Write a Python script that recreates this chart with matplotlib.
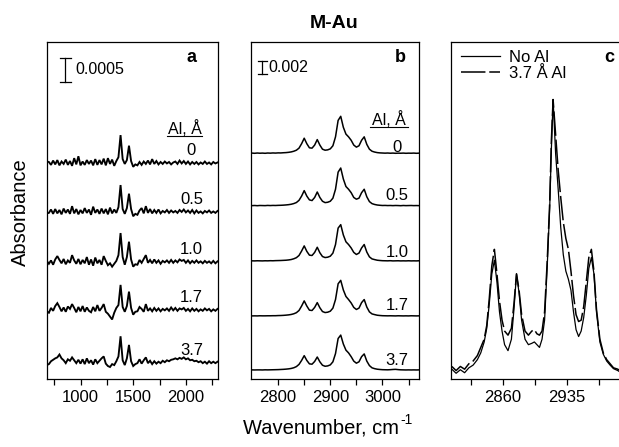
import numpy as np
import matplotlib
matplotlib.use("Agg")
import matplotlib.pyplot as plt
from matplotlib.transforms import blended_transform_factory

plt.rcParams['font.family'] = ['Liberation Sans', 'DejaVu Sans']

# ---------------- data ----------------
# Panel a: low-frequency region, absorbance in units of 1e-5, sampled every 20 cm-1
a_wavenumber = np.arange(680, 2301, 20)
a_labels = ['0', '0.5', '1.0', '1.7', '3.7']
a_al00 = [3, 2, -4, 5, -3, 6, -5, 3, -2, 7, -4,
          4, -6, 10, -3, 14, -5, 3, -4, 6, -2,
          5, -5, 8, -4, 6, -3, 9, -5, 10, -2,
          7, -6, 4, 12, 58, 8, -2, 6, 36, 4,
          -8, -3, -5, 2, -4, 3, -2, 5, -3, 8,
          -2, 4, -3, 2, -2, 3, -1, 2, -3, 1,
          3, -2, 5, -1, 4, -2, 3, -3, 2, -2,
          2, -3, 1, -2, 3, -2, 1, -3, 2, -1, 1]
a_al05 = [-3, -2, 5, -4, 6, -3, 4, -5, 7, -2, 5,
          -4, 12, -3, 6, -5, 4, -3, 8, -2, 5,
          -6, 11, -2, 5, -4, 7, -3, 6, -5, 9,
          -3, 5, -2, 10, 56, 6, -4, 8, 38, 6,
          -9, -4, -6, 3, 8, -3, 12, -2, 6, -3,
          4, -2, 5, -3, 2, -1, 4, -2, 3, -1,
          2, -2, 4, 0, 5, -1, 3, -2, 4, -3,
          3, -2, 1, -3, 2, -1, 3, -2, 1, -2, 2]
a_al10 = [2, -4, 3, -6, 5, 12, 4, -3, 6, -5, 3,
          -2, 14, 3, -4, 6, -5, 4, -3, 10, -6,
          5, -8, 9, -3, 4, -6, 12, 2, -7, -3,
          -10, -4, 2, 14, 60, 10, -6, 10, 42, 5,
          -10, -5, -6, 4, -2, 6, 14, -2, 4, -3,
          5, -2, 3, -4, 2, -1, 3, -2, 4, -2,
          3, -1, 5, 2, 4, -2, 3, -3, 2, -2,
          3, -2, 1, -3, 2, -2, 1, -3, 2, -3, 1]
a_al17 = [-3, -6, 4, -2, 8, 14, 6, -3, 5, -4, 7,
          2, 12, 4, -5, 6, -3, 8, -4, 5, -2,
          -5, 6, -3, 10, -2, 4, 12, -4, -8, -14,
          -20, -6, 4, 10, 52, 6, -4, 8, 38, 4,
          -10, -4, -3, 6, 2, -4, 12, -2, 3, -3,
          4, -2, 3, -3, 2, -1, 3, -2, 5, -1,
          4, -2, 3, 1, 4, -2, 2, -3, 3, -2,
          2, -3, 1, -2, 3, -1, 2, -3, 1, -2, 2]
a_al37 = [-6, -4, 2, 5, 8, 10, 16, 8, 4, -2, 6,
          3, 10, 4, -2, 5, -3, 6, -4, 8, -2,
          4, -5, 6, -2, 3, 8, 12, -3, -8, -10,
          -4, -6, 2, 12, 54, 4, -6, 8, 36, 2,
          -8, -4, -2, 6, -3, 4, 10, -2, 3, -4,
          2, -3, 1, -2, 3, 0, 4, 2, 5, 6,
          8, 6, 9, 7, 10, 6, 8, 4, 5, 2,
          3, 0, 2, -2, 1, -3, 2, -2, 1, -2, 1]
a_series = [a_al00, a_al05, a_al10, a_al17, a_al37]

# Panel b: C-H stretching region, absorbance in units of 1e-4, every 5 cm-1
b_wavenumber = np.arange(2745, 3076, 5)
b_labels = ['0', '0.5', '1.0', '1.7', '3.7']
b_al00 = [0.1, 0.3, 0, 0.4, 0.1, 0.3, 0, 0.4, 0.2, 0.5, 0.3,
          0.6, 0.5, 0.8, 1.0, 1.4, 2.0, 3.0, 4.5, 7.5, 14,
          22, 14, 8, 7.5, 12, 20, 12, 6, 4.5, 5,
          6.5, 11, 24, 48, 54, 38, 28, 24, 19, 12,
          9, 11, 19, 24, 13, 6, 3, 1.8, 1.0, 0.6,
          0.4, 0.2, 0.4, 0.1, 0.3, 0, 0.2, 0.1, 0.3, 0,
          0.2, 0.1, 0.3, 0, 0.2, 0.1]
b_al05 = [0.2, 0.1, 0.3, 0, 0.3, 0.2, 0.1, 0.4, 0.2, 0.4, 0.3,
          0.5, 0.6, 0.8, 1.1, 1.5, 2.1, 3.1, 4.6, 7.8, 14,
          22, 14, 8.5, 7.5, 12, 20, 12, 6.5, 4.5, 5,
          6.5, 11, 24, 49, 55, 39, 28, 24, 19, 12,
          9.5, 11, 19, 24, 13, 6, 3, 1.8, 1.0, 0.6,
          0.3, 0.4, 0.2, 0.3, 0.1, 0.3, 0.2, 0, 0.3, 0.1,
          0.2, 0.3, 0.1, 0.2, 0.1, 0.2]
b_al10 = [0.1, 0.2, 0.1, 0.3, 0.2, 0.1, 0.3, 0.2, 0.4, 0.3, 0.5,
          0.6, 0.7, 0.9, 1.1, 1.5, 2.1, 3.2, 4.8, 8.0, 14.5,
          22, 14, 8.5, 8, 12.5, 20, 12, 6.5, 5, 5.5,
          7, 11.5, 24, 48, 53, 38, 28, 24, 19, 12.5,
          9.5, 11.5, 19, 24, 13, 6, 3, 2.0, 1.1, 0.7,
          0.4, 0.3, 0.2, 0.4, 0.1, 0.2, 0.3, 0.1, 0.2, 0.1,
          0.3, 0.1, 0.2, 0.1, 0.3, 0.2]
b_al17 = [0.2, 0.1, 0.2, 0.1, 0.3, 0.2, 0.2, 0.3, 0.3, 0.4, 0.4,
          0.6, 0.7, 0.9, 1.2, 1.6, 2.2, 3.2, 4.8, 8.0, 14.5,
          22, 14.5, 8.5, 8, 12.5, 19.5, 12, 6.5, 5, 5.5,
          7, 11.5, 24, 47, 52, 38, 28.5, 24, 19, 12.5,
          9.5, 11.5, 19.5, 24, 13, 6, 3, 2.0, 1.1, 0.7,
          0.4, 0.3, 0.2, 0.3, 0.2, 0.1, 0.3, 0.2, 0.1, 0.2,
          0.1, 0.3, 0.2, 0.1, 0.2, 0.1]
b_al37 = [0.1, 0.2, 0.1, 0.2, 0.2, 0.1, 0.3, 0.2, 0.3, 0.4, 0.5,
          0.6, 0.8, 1.0, 1.3, 1.7, 2.3, 3.3, 5.0, 8.2, 14,
          21, 14, 9, 8.5, 12.5, 19, 12, 7, 5.5, 6,
          7.5, 12, 24, 46, 51, 38, 29, 25, 19.5, 13,
          10, 12, 19.5, 23.5, 13, 6.5, 3.2, 2.0, 1.2, 0.8,
          0.5, 0.4, 0.3, 0.5, 0.8, 1.0, 0.6, 0.3, 0.2, 0.1,
          0.2, 0.1, 0.2, 0.1, 0.2, 0.1]
b_series = [b_al00, b_al05, b_al10, b_al17, b_al37]

# Panel c: normalised overlay of the 0 and 3.7 A Al spectra
c_wavenumber = [2800, 2805, 2810, 2815, 2820, 2825, 2830,
                2834, 2838, 2841, 2844, 2847,
                2850, 2853, 2856, 2859, 2862,
                2866, 2870, 2873, 2876, 2879,
                2882, 2886, 2890, 2894, 2897,
                2900, 2903, 2906, 2909, 2912,
                2915, 2917, 2919, 2922, 2925,
                2928, 2931, 2934, 2937, 2940,
                2943, 2946, 2949, 2952, 2955,
                2958, 2961, 2964, 2967, 2970,
                2974, 2978, 2982, 2986, 2990,
                2995, 3000]
c_no_al = [0.01, -0.005, 0.008, -0.003, 0.015, 0.025, 0.045,
           0.07, 0.11, 0.16, 0.25, 0.36,
           0.41, 0.33, 0.22, 0.15, 0.10,
           0.078, 0.12, 0.23, 0.36, 0.29,
           0.19, 0.12, 0.10, 0.105, 0.11,
           0.10, 0.09, 0.12, 0.19, 0.38,
           0.60, 0.82, 1.00, 0.80, 0.67,
           0.53, 0.43, 0.37, 0.34, 0.30,
           0.22, 0.155, 0.13, 0.15, 0.20,
           0.28, 0.38, 0.42, 0.36, 0.22,
           0.11, 0.065, 0.04, 0.025, 0.012,
           0.005, -0.005]
c_al37 = [0.02, 0.005, 0.02, 0.01, 0.03, 0.04, 0.06,
          0.09, 0.12, 0.17, 0.27, 0.39,
          0.45, 0.36, 0.26, 0.19, 0.15,
          0.135, 0.16, 0.25, 0.36, 0.30,
          0.21, 0.15, 0.135, 0.15, 0.155,
          0.14, 0.135, 0.15, 0.22, 0.40,
          0.62, 0.85, 1.00, 0.87, 0.74,
          0.64, 0.55, 0.49, 0.45, 0.37,
          0.28, 0.21, 0.185, 0.19, 0.24,
          0.33, 0.42, 0.45, 0.37, 0.23,
          0.12, 0.07, 0.045, 0.03, 0.015,
          0.01, 0.0]
c_legend = ['No Al', '3.7 Å Al']

# ---------------- layout ----------------
W, H = 619, 447
fig = plt.figure(figsize=(W / 100, H / 100), dpi=100)


def rect(x0, x1, top=41.5, bot=379.0):
    return [x0 / W, 1 - bot / H, (x1 - x0) / W, (bot - top) / H]


ax_a = fig.add_axes(rect(47, 217.5))
ax_b = fig.add_axes(rect(251, 419.5))
ax_c = fig.add_axes(rect(451, 622))

for ax in (ax_a, ax_b, ax_c):
    for s in ax.spines.values():
        s.set_linewidth(0.9)
        s.set_color('black')
    ax.set_yticks([])
    ax.tick_params(axis='x', which='both', direction='out', length=4, width=0.9,
                   labelsize=12, pad=4, colors='black')

LBL = 11.5

# ---- panel a ----
a_offsets = [450, 348, 244, 144, 35]
for vals, off, lab in zip(a_series, a_offsets, a_labels):
    ax_a.plot(a_wavenumber, np.array(vals, float) + off, color='black', lw=1.35,
              solid_joinstyle='miter')
    ax_a.text(0.847, off + 25, lab, transform=blended_transform_factory(ax_a.transAxes, ax_a.transData),
              ha='center', va='center', fontsize=12)
ax_a.set_xlim(682, 2300)
ax_a.set_ylim(0, 703)
ax_a.set_xticks([750, 1000, 1250, 1500, 1750, 2000, 2250])
ax_a.set_xticklabels(['', '1000', '', '1500', '', '2000', ''])
tr = blended_transform_factory(ax_a.transAxes, ax_a.transData)
bx, hw, y0, y1 = 0.106, 0.032, 618.7, 668.7
ax_a.plot([bx, bx], [y0, y1], color='black', lw=0.9, transform=tr)
ax_a.plot([bx - hw, bx + hw], [y0, y0], color='black', lw=0.9, transform=tr)
ax_a.plot([bx - hw, bx + hw], [y1, y1], color='black', lw=0.9, transform=tr)
ax_a.text(0.165, 643.7, '0.0005', transform=tr, ha='left', va='center', fontsize=LBL)
ax_a.text(0.85, 0.952, 'a', transform=ax_a.transAxes, ha='center', va='center',
          fontsize=13, fontweight='bold')
ax_a.text(0.809, 0.742, 'Al, Å', transform=ax_a.transAxes, ha='center', va='center', fontsize=LBL)
ax_a.plot([0.706, 0.912], [0.721, 0.721], color='black', lw=0.8, transform=ax_a.transAxes)

# ---- panel b ----
b_offsets = [329.5, 253, 172.3, 92, 13.1]
b_label_dy = [8, 15, 13, 15, 14]
for vals, off, lab, dy in zip(b_series, b_offsets, b_labels, b_label_dy):
    ax_b.plot(b_wavenumber, np.array(vals, float) + off, color='black', lw=1.1)
    ax_b.text(0.866, off + dy, lab, transform=blended_transform_factory(ax_b.transAxes, ax_b.transData),
              ha='center', va='center', fontsize=12)
ax_b.set_xlim(2748, 3071)
ax_b.set_ylim(0, 492.7)
ax_b.set_xticks([2800, 2850, 2900, 2950, 3000, 3050])
ax_b.set_xticklabels(['2800', '', '2900', '', '3000', ''])
tr = blended_transform_factory(ax_b.transAxes, ax_b.transData)
bx, hw, y0, y1 = 0.068, 0.027, 444.9, 464.9
ax_b.plot([bx, bx], [y0, y1], color='black', lw=0.9, transform=tr)
ax_b.plot([bx - hw, bx + hw], [y0, y0], color='black', lw=0.9, transform=tr)
ax_b.plot([bx - hw, bx + hw], [y1, y1], color='black', lw=0.9, transform=tr)
ax_b.text(0.101, 454.8, '0.002', transform=tr, ha='left', va='center', fontsize=LBL)
ax_b.text(0.887, 0.954, 'b', transform=ax_b.transAxes, ha='center', va='center',
          fontsize=13, fontweight='bold')
ax_b.text(0.818, 0.7685, 'Al, Å', transform=ax_b.transAxes, ha='center', va='center', fontsize=LBL)
ax_b.plot([0.708, 0.929], [0.748, 0.748], color='black', lw=0.8, transform=ax_b.transAxes)

# ---- panel c ----
l1, = ax_c.plot(c_wavenumber, c_no_al, color='black', lw=0.9, label=c_legend[0])
l2, = ax_c.plot(c_wavenumber, c_al37, color='black', lw=1.1, dashes=(16, 2.5), label=c_legend[1])
ax_c.set_xlim(2799, 3000)
ax_c.set_ylim(-0.026, 1.213)
ax_c.set_xticks([2822.5, 2860, 2897.5, 2935, 2972.5])
ax_c.set_xticklabels(['', '2860', '', '2935', ''])
ax_c.spines['right'].set_visible(False)
ax_c.legend(handles=[l1, l2], loc='upper left', bbox_to_anchor=(0.058, 0.975), frameon=False,
            fontsize=12, handlelength=2.35, handletextpad=0.55, borderpad=0, borderaxespad=0,
            labelspacing=0.05)
ax_c.text(0.924, 0.953, 'c', transform=ax_c.transAxes, ha='center', va='center',
          fontsize=13, fontweight='bold')

# ---- figure texts ----
fig.text(334 / W, 1 - 24 / H, 'M-Au', ha='center', va='center', fontsize=14, fontweight='bold')
xl = fig.text(243 / W, 1 - 434 / H, 'Wavenumber, cm', ha='left', va='baseline', fontsize=14.5)
fig.canvas.draw()
bb = xl.get_window_extent()
fig.text((bb.x1 + 1) / W, (1 - 434 / H) + 10 / H, '-1', ha='left', va='baseline', fontsize=10)
fig.text(20 / W, 1 - 212 / H, 'Absorbance', ha='center', va='center', rotation=90, fontsize=14.5)

fig.savefig('out.png', dpi=100)
